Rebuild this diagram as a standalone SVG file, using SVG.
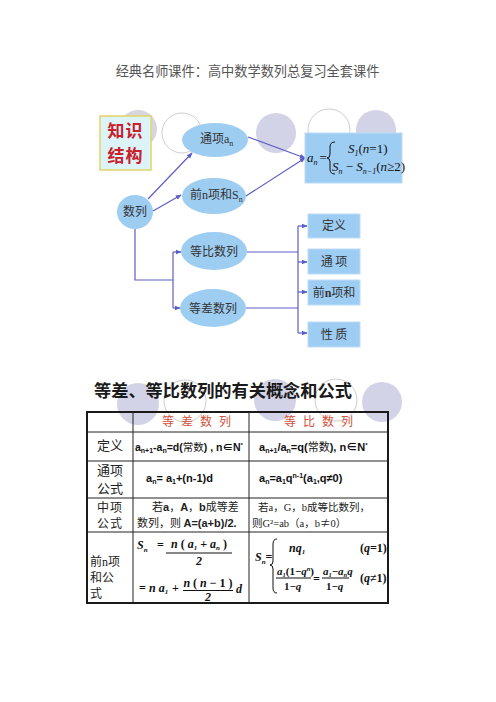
<svg xmlns="http://www.w3.org/2000/svg" width="496" height="702" viewBox="0 0 496 702">
<style>
.cjk{font-family:"Noto Sans CJK SC","Liberation Sans",sans-serif}
.ser{font-family:"Liberation Serif","Noto Sans CJK SC",serif}
.lat{font-family:"Liberation Sans","Noto Sans CJK SC",sans-serif;font-weight:bold}
.math{font-family:"Liberation Serif","Noto Sans CJK SC",serif;font-style:italic}
.mb{font-family:"Liberation Serif","Noto Sans CJK SC",serif;font-style:italic;font-weight:bold}
.node{fill:#9ecdf2}
.box{fill:#9ecdf4;stroke:#bcdcf6;stroke-width:1}
.lav{fill:#d3d3e8}
.wc{fill:#fff;stroke:#cfcfcf;stroke-width:1}
.con{stroke:#5d5dc6;stroke-width:1.2;fill:none}
.tl{stroke:#222;stroke-width:1;fill:none}
.nt{font-size:12px;fill:#333}
.sub{font-size:8px}
</style>
<defs>
<marker id="ah" viewBox="0 0 8 8" refX="7" refY="4" markerWidth="6" markerHeight="6" orient="auto" markerUnits="userSpaceOnUse">
<path d="M0,0.8 L8,4 L0,7.2 z" fill="#5d5dc6"/>
</marker>
</defs>
<rect width="496" height="702" fill="#fff"/>
<text class="cjk" x="247.5" y="76" font-size="13.2" fill="#555" text-anchor="middle">经典名师课件：高中数学数列总复习全套课件</text>

<g id="decor-top">
<circle cx="138" cy="129" r="19" fill="#d6d6dc"/>
<circle cx="182" cy="133" r="20" class="wc"/>
<circle cx="276" cy="133" r="20" class="lav"/>
<circle cx="329" cy="130" r="21" class="wc"/>
<circle cx="376" cy="130" r="20" class="lav"/>
</g>

<g id="zhishijiegou">
<rect x="100" y="116" width="51" height="54" fill="#dcf4f8" stroke="#e4d46a" stroke-width="1.5"/>
<text class="cjk" x="125.5" y="137" font-size="17" font-weight="bold" fill="#c8202c" text-anchor="middle" letter-spacing="1">知识</text>
<text class="cjk" x="125.5" y="162" font-size="17" font-weight="bold" fill="#c8202c" text-anchor="middle" letter-spacing="1">结构</text>
</g>

<g id="connectors">
<line x1="148" y1="199" x2="192" y2="153" class="con" marker-end="url(#ah)"/>
<line x1="153" y1="211" x2="181" y2="195" class="con" marker-end="url(#ah)"/>
<line x1="248" y1="137" x2="305" y2="158" class="con" marker-end="url(#ah)"/>
<line x1="246" y1="196" x2="305" y2="158" class="con" marker-end="url(#ah)"/>
<polyline points="135,229 135,280 173,280" class="con"/>
<line x1="173" y1="252" x2="173" y2="308" class="con"/>
<line x1="173" y1="252" x2="181" y2="252" class="con" marker-end="url(#ah)"/>
<line x1="173" y1="308" x2="180" y2="308" class="con" marker-end="url(#ah)"/>
<line x1="247" y1="252" x2="298" y2="252" class="con"/>
<line x1="246" y1="308" x2="298" y2="308" class="con"/>
<line x1="298" y1="226" x2="298" y2="333" class="con"/>
<line x1="298" y1="226" x2="307" y2="226" class="con" marker-end="url(#ah)"/>
<line x1="298" y1="262" x2="307" y2="262" class="con" marker-end="url(#ah)"/>
<line x1="298" y1="292" x2="307" y2="292" class="con" marker-end="url(#ah)"/>
<line x1="298" y1="333" x2="307" y2="333" class="con" marker-end="url(#ah)"/>
</g>

<g id="node-tongxiang">
<ellipse cx="215" cy="140" rx="33" ry="17" class="node"/>
<text class="cjk nt" x="200" y="143">通项<tspan class="ser" font-size="12">a</tspan><tspan class="ser sub" dy="3">n</tspan></text>
</g>
<g id="node-qianxiang">
<ellipse cx="214" cy="196" rx="32" ry="18" class="node"/>
<text class="cjk nt" x="190" y="199">前<tspan class="ser">n</tspan>项和<tspan class="ser">S</tspan><tspan class="ser sub" dy="3">n</tspan></text>
</g>
<g id="node-shulie">
<ellipse cx="135" cy="212" rx="18" ry="17" class="node"/>
<text class="cjk nt" x="135" y="216" text-anchor="middle">数列</text>
</g>
<g id="node-dengbi">
<ellipse cx="214" cy="251" rx="33" ry="19" class="node"/>
<text class="cjk nt" x="214" y="256" text-anchor="middle">等比数列</text>
</g>
<g id="node-dengcha">
<ellipse cx="213" cy="308" rx="33" ry="19" class="node"/>
<text class="cjk nt" x="213" y="313" text-anchor="middle">等差数列</text>
</g>

<g id="node-formula">
<rect x="305" y="133" width="97" height="50" class="box"/>
<text class="math" font-size="13" fill="#111"><tspan x="307" y="162">a</tspan><tspan font-size="8" dy="3">n</tspan><tspan font-style="normal" dy="-3" dx="2">=</tspan></text>
<path d="M335,142 Q330,142 330,147 L330,154 Q330,158 327,158 Q330,158 330,162 L330,169 Q330,174 335,174" fill="none" stroke="#111" stroke-width="1"/>
<text class="math" font-size="13" fill="#111"><tspan x="348" y="153">S</tspan><tspan font-size="8" dy="3">1</tspan><tspan font-style="normal" dy="-3">(</tspan><tspan>n</tspan><tspan font-style="normal">=1)</tspan></text>
<text class="math" font-size="13" fill="#111"><tspan x="332" y="171">S</tspan><tspan font-size="8" dy="3">n</tspan><tspan font-style="normal" dy="-3"> − </tspan><tspan>S</tspan><tspan font-size="8" dy="3">n−1</tspan><tspan font-style="normal" dy="-3">(</tspan><tspan>n</tspan><tspan font-style="normal">≥2)</tspan></text>
</g>

<g id="node-dingyi">
<rect x="308" y="214" width="52" height="24" class="box"/>
<text class="cjk nt" x="334" y="230" text-anchor="middle">定义</text>
</g>
<g id="node-tongxiang2">
<rect x="308" y="249" width="52" height="25" class="box"/>
<text class="cjk nt" x="334" y="266" text-anchor="middle">通 项</text>
</g>
<g id="node-qianxianghe">
<rect x="308" y="280" width="52" height="25" class="box"/>
<text class="cjk nt" x="334" y="297" text-anchor="middle">前<tspan class="ser" font-weight="bold">n</tspan>项和</text>
</g>
<g id="node-xingzhi">
<rect x="308" y="322" width="52" height="25" class="box"/>
<text class="cjk nt" x="334" y="339" text-anchor="middle">性 质</text>
</g>

<g id="decor-mid">
<circle cx="138" cy="404" r="21" class="lav"/>
<circle cx="185" cy="401" r="21" class="wc"/>
<circle cx="275" cy="400" r="21" class="lav"/>
<circle cx="336" cy="400" r="21" class="wc"/>
<circle cx="382" cy="402" r="20" class="lav"/>
</g>
<text class="cjk" x="94" y="397" font-size="17.2" font-weight="bold" fill="#1a1a1a">等差、等比数列的有关概念和公式</text>

<g id="table">
<rect x="87" y="412" width="301" height="191" fill="none" stroke="#1a1a1a" stroke-width="2"/>
<line x1="133" y1="412" x2="133" y2="603" class="tl"/>
<line x1="249" y1="412" x2="249" y2="603" class="tl"/>
<line x1="87" y1="432" x2="388" y2="432" class="tl"/>
<line x1="87" y1="461" x2="388" y2="461" class="tl"/>
<line x1="87" y1="498" x2="388" y2="498" class="tl"/>
<line x1="87" y1="532" x2="388" y2="532" class="tl"/>

<text class="cjk" x="200" y="426" font-size="12" fill="#d2503c" text-anchor="middle" letter-spacing="7">等差数列</text>
<text class="cjk" x="322" y="426" font-size="12" fill="#d2503c" text-anchor="middle" letter-spacing="7">等比数列</text>

<text class="cjk" x="110" y="450" font-size="13" fill="#222" text-anchor="middle">定义</text>
<text class="lat" font-size="10.5" fill="#111" x="135" y="451">a<tspan font-size="7" dy="2">n+1</tspan><tspan dy="-2">-a</tspan><tspan font-size="7" dy="2">n</tspan><tspan dy="-2">=d(</tspan><tspan class="cjk" font-weight="normal">常数</tspan><tspan>) , n∈N</tspan><tspan font-size="6" dy="-4">*</tspan></text>
<text class="lat" font-size="11" fill="#111" x="259" y="451">a<tspan font-size="7" dy="2">n+1</tspan><tspan dy="-2">/a</tspan><tspan font-size="7" dy="2">n</tspan><tspan dy="-2">=q(</tspan><tspan class="cjk" font-weight="normal">常数</tspan><tspan>), n∈N</tspan><tspan font-size="6" dy="-4">*</tspan></text>

<text class="cjk" x="110" y="475" font-size="13" fill="#222" text-anchor="middle">通项</text>
<text class="cjk" x="110" y="493" font-size="13" fill="#222" text-anchor="middle">公式</text>
<text class="lat" font-size="11" fill="#111" x="146" y="482">a<tspan font-size="7" dy="2">n</tspan><tspan dy="-2">= a</tspan><tspan font-size="7" dy="2">1</tspan><tspan dy="-2">+(n-1)d</tspan></text>
<text class="lat" font-size="11" fill="#111" x="259" y="482">a<tspan font-size="7" dy="2">n</tspan><tspan dy="-2">=a</tspan><tspan font-size="7" dy="2">1</tspan><tspan dy="-2">q</tspan><tspan font-size="7" dy="-4">n-1</tspan><tspan dy="4">(a</tspan><tspan font-size="7" dy="2">1</tspan><tspan dy="-2">,q≠0)</tspan></text>

<text class="cjk" x="110" y="512" font-size="12" fill="#222" text-anchor="middle" letter-spacing="1">中项</text>
<text class="cjk" x="110" y="528" font-size="12" fill="#222" text-anchor="middle" letter-spacing="1">公式</text>
<text class="cjk" font-size="11" fill="#222" x="152" y="511">若<tspan class="lat">a</tspan>，<tspan class="lat">A</tspan>，<tspan class="lat">b</tspan>成等差</text>
<text class="cjk" font-size="11" fill="#222" x="137" y="527">数列，则 <tspan class="lat">A=(a+b)/2.</tspan></text>
<text class="cjk" font-size="10.5" fill="#222" x="258" y="511">若<tspan class="ser">a</tspan>，<tspan class="ser">G</tspan>，<tspan class="ser">b</tspan>成等比数列，</text>
<text class="cjk" font-size="10.5" fill="#222" x="252" y="527">则<tspan class="ser">G²=ab</tspan>（<tspan class="ser">a</tspan>，<tspan class="ser">b</tspan>≠<tspan class="ser">0</tspan>）</text>

<text class="cjk" x="90" y="566" font-size="12" fill="#222">前<tspan class="ser">n</tspan>项</text>
<text class="cjk" x="90" y="582" font-size="12" fill="#222">和公</text>
<text class="cjk" x="90" y="598" font-size="12" fill="#222">式</text>

<text class="mb" font-size="12" fill="#111"><tspan x="137" y="549">S</tspan><tspan font-size="7" dy="3">n</tspan><tspan font-style="normal" dy="-3" x="157">=</tspan></text>
<text class="mb" font-size="12" fill="#111" x="199" y="548" text-anchor="middle">n<tspan font-style="normal"> ( </tspan>a<tspan font-size="7" dy="2">1</tspan><tspan font-style="normal" dy="-2"> + </tspan>a<tspan font-size="7" dy="2">n</tspan><tspan font-style="normal" dy="-2"> )</tspan></text>
<line x1="166" y1="553" x2="232" y2="553" stroke="#111" stroke-width="1"/>
<text class="mb" font-size="12" fill="#111" x="199" y="565" text-anchor="middle" font-style="normal">2</text>
<text class="mb" font-size="12" fill="#111"><tspan x="139" y="592" font-style="normal">=</tspan><tspan x="149">n a</tspan><tspan font-size="7" dy="2">1</tspan><tspan font-style="normal" dy="-2" x="172">+</tspan></text>
<text class="mb" font-size="12" fill="#111" x="208" y="587" text-anchor="middle">n<tspan font-style="normal"> ( </tspan>n<tspan font-style="normal"> − 1 )</tspan></text>
<line x1="183" y1="590.5" x2="233" y2="590.5" stroke="#111" stroke-width="1"/>
<text class="mb" font-size="12" fill="#111" x="208" y="601" text-anchor="middle" font-style="normal">2</text>
<text class="mb" font-size="12" fill="#111" x="236" y="593">d</text>

<text class="mb" font-size="12" fill="#111"><tspan x="255" y="561">S</tspan><tspan font-size="7" dy="3">n</tspan><tspan font-style="normal" dy="-3">=</tspan></text>
<path d="M277,539 Q273,539 273,544 L273,561 Q273,565 270,565 Q273,565 273,569 L273,588 Q273,593 277,593" fill="none" stroke="#111" stroke-width="1"/>
<text class="mb" font-size="12" fill="#111"><tspan x="289" y="552">nq</tspan><tspan font-size="7" dy="2">1</tspan></text>
<text class="mb" font-size="12" fill="#111"><tspan x="360" y="552" font-style="normal">(</tspan><tspan>q</tspan><tspan font-style="normal">=1)</tspan></text>
<text class="mb" font-size="11" fill="#111"><tspan x="277" y="575">a</tspan><tspan font-size="6.5" dy="2">1</tspan><tspan font-style="normal" dy="-2">(1−</tspan><tspan>q</tspan><tspan font-size="6.5" dy="-4">n</tspan><tspan font-style="normal" dy="4">)</tspan></text>
<line x1="276" y1="578" x2="311" y2="578" stroke="#111" stroke-width="1"/>
<text class="mb" font-size="11" fill="#111"><tspan x="284" y="590" font-style="normal">1−</tspan><tspan>q</tspan></text>
<text class="mb" font-size="12" fill="#111" x="313" y="583" font-style="normal">=</text>
<text class="mb" font-size="11" fill="#111"><tspan x="323" y="575">a</tspan><tspan font-size="6.5" dy="2">1</tspan><tspan font-style="normal" dy="-2">−</tspan><tspan>a</tspan><tspan font-size="6.5" dy="2">n</tspan><tspan dy="-2">q</tspan></text>
<line x1="322" y1="578" x2="349" y2="578" stroke="#111" stroke-width="1"/>
<text class="mb" font-size="11" fill="#111"><tspan x="326" y="590" font-style="normal">1−</tspan><tspan>q</tspan></text>
<text class="mb" font-size="12" fill="#111"><tspan x="360" y="582" font-style="normal">(</tspan><tspan>q</tspan><tspan font-style="normal">≠1)</tspan></text>
</g>
</svg>
